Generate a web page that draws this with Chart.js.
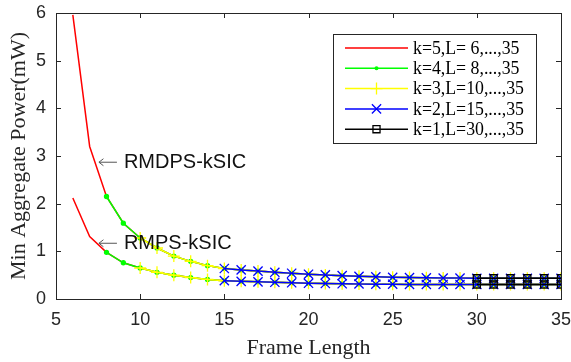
<!DOCTYPE html>
<html>
<head>
<meta charset="utf-8">
<script src="https://cdn.jsdelivr.net/npm/chart.js@4/dist/chart.umd.min.js"></script>
<style>
  html, body { margin: 0; padding: 0; background: #ffffff; }
  #wrap { width: 571px; height: 362px; }
</style>
</head>
<body>
<div id="wrap"><canvas id="c" width="571" height="362"></canvas></div>
<script>
// ---- data ----
const frameLengths = [6,7,8,9,10,11,12,13,14,15,16,17,18,19,20,21,22,23,24,25,26,27,28,29,30,31,32,33,34,35];
const rmdpsPower = [5.96,3.20,2.15,1.59,1.28,1.07,0.90,0.79,0.70,0.64,0.61,0.585,0.56,0.54,0.52,0.505,0.49,0.475,0.465,0.455,0.45,0.445,0.44,0.44,0.435,0.435,0.435,0.435,0.435,0.435];
const rmpsPower  = [2.12,1.31,0.98,0.76,0.65,0.56,0.50,0.45,0.41,0.385,0.37,0.36,0.35,0.34,0.33,0.325,0.32,0.315,0.31,0.31,0.305,0.305,0.305,0.305,0.305,0.305,0.305,0.305,0.305,0.305];
const seriesK      = [5, 4, 3, 2, 1];
const seriesStartL = [6, 8, 10, 15, 30];
const seriesLabels = ['k=5,L= 6,...,35','k=4,L= 8,...,35','k=3,L=10,...,35','k=2,L=15,...,35','k=1,L=30,...,35'];
const xTicks = [5,10,15,20,25,30,35];
const yTicks = [0,1,2,3,4,5,6];
const annotations = [
  {text: 'RMDPS-kSIC', x: 7.55, y: 2.88},
  {text: 'RMPS-kSIC',  x: 7.55, y: 1.18}
];

// ---- styles ----
const seriesStyle = [
  {color: '#ff0000', pointStyle: 'circle',   radius: 0,   fill: false},
  {color: '#00ff00', pointStyle: 'circle',   radius: 2,   fill: true},
  {color: '#ffff00', pointStyle: 'cross',    radius: 6,   fill: false},
  {color: '#0000ff', pointStyle: 'crossRot', radius: 6.5, fill: false},
  {color: '#000000', pointStyle: 'rect',     radius: 5,   fill: false}
];
const AX = '#262626';

function buildPoints(values, startL) {
  const pts = [];
  frameLengths.forEach((L, i) => { if (L >= startL) pts.push({x: L, y: values[i]}); });
  return pts;
}

const datasets = [];
seriesK.forEach((k, si) => {
  const st = seriesStyle[si];
  [rmdpsPower, rmpsPower].forEach((vals, ci) => {
    datasets.push({
      label: seriesLabels[si] + (ci ? ' (RMPS)' : ''),
      data: buildPoints(vals, seriesStartL[si]),
      borderColor: st.color,
      backgroundColor: st.fill ? st.color : 'rgba(0,0,0,0)',
      pointBorderColor: st.color,
      pointBackgroundColor: st.fill ? st.color : 'rgba(0,0,0,0)',
      pointStyle: st.pointStyle,
      pointRadius: st.radius,
      pointBorderWidth: 1.3,
      pointHoverRadius: st.radius,
      borderWidth: 1.5,
      tension: 0,
      fill: false,
      order: k
    });
  });
});

function drawMarker(ctx, st, x, y) {
  if (!st.radius) return;
  ctx.save();
  ctx.strokeStyle = st.color;
  ctx.fillStyle = st.color;
  ctx.lineWidth = 1.3;
  const r = st.radius;
  ctx.beginPath();
  if (st.pointStyle === 'circle') {
    ctx.arc(x, y, r, 0, Math.PI * 2);
    ctx.fill();
  } else if (st.pointStyle === 'cross') {
    ctx.moveTo(x - r, y); ctx.lineTo(x + r, y);
    ctx.moveTo(x, y - r); ctx.lineTo(x, y + r);
    ctx.stroke();
  } else if (st.pointStyle === 'crossRot') {
    const d = r * Math.SQRT1_2;
    ctx.moveTo(x - d, y - d); ctx.lineTo(x + d, y + d);
    ctx.moveTo(x - d, y + d); ctx.lineTo(x + d, y - d);
    ctx.stroke();
  } else if (st.pointStyle === 'rect') {
    const s = r * Math.SQRT1_2;
    ctx.rect(x - s, y - s, 2 * s, 2 * s);
    ctx.stroke();
  }
  ctx.restore();
}

const decorPlugin = {
  id: 'decor',
  afterDraw(chart) {
    const ctx = chart.ctx;
    const xs = chart.scales.x, ys = chart.scales.y;
    const {left, right, top, bottom} = chart.chartArea;
    ctx.save();
    // box
    ctx.strokeStyle = AX;
    ctx.lineWidth = 1;
    ctx.beginPath();
    ctx.moveTo(left + 0.5, top + 0.5); ctx.lineTo(right + 0.5, top + 0.5); ctx.lineTo(right + 0.5, bottom + 0.5);
    ctx.stroke();
    // inward ticks
    const tl = 5;
    ctx.beginPath();
    xTicks.forEach(v => {
      const px = Math.round(xs.getPixelForValue(v)) + 0.5;
      ctx.moveTo(px, bottom); ctx.lineTo(px, bottom - tl);
      ctx.moveTo(px, top); ctx.lineTo(px, top + tl);
    });
    yTicks.forEach(v => {
      const py = Math.round(ys.getPixelForValue(v)) + 0.5;
      ctx.moveTo(left, py); ctx.lineTo(left + tl, py);
      ctx.moveTo(right, py); ctx.lineTo(right - tl, py);
    });
    ctx.stroke();

    // annotations
    annotations.forEach(a => {
      const px = xs.getPixelForValue(a.x), py = ys.getPixelForValue(a.y);
      ctx.strokeStyle = '#555555';
      ctx.lineWidth = 1;
      ctx.beginPath();
      ctx.moveTo(px, py + 0.5); ctx.lineTo(px + 18, py + 0.5);
      ctx.moveTo(px + 4.5, py - 3); ctx.lineTo(px, py + 0.5); ctx.lineTo(px + 4.5, py + 4);
      ctx.stroke();
      ctx.fillStyle = '#111111';
      ctx.font = '20px "Liberation Sans", Arial, sans-serif';
      ctx.textBaseline = 'middle';
      ctx.textAlign = 'left';
      ctx.fillText(a.text, px + 25, py + 1);
    });

    // legend
    const bx = 333, by = 34, bw = 203, bh = 109;
    ctx.fillStyle = '#ffffff';
    ctx.fillRect(bx, by, bw, bh);
    ctx.strokeStyle = AX;
    ctx.lineWidth = 1;
    ctx.strokeRect(bx + 0.5, by + 0.5, bw, bh);
    ctx.font = '17.8px "Liberation Serif", "Times New Roman", serif';
    ctx.textBaseline = 'middle';
    ctx.textAlign = 'left';
    seriesLabels.forEach((lab, i) => {
      const st = seriesStyle[i];
      const y = 48 + i * 20.3;
      ctx.strokeStyle = st.color;
      ctx.lineWidth = 1.5;
      ctx.beginPath();
      ctx.moveTo(345, y); ctx.lineTo(408, y);
      ctx.stroke();
      drawMarker(ctx, st, 376.5, y);
      ctx.fillStyle = '#000000';
      ctx.fillText(lab, 413, y + 1);
    });
    ctx.restore();
  }
};

new Chart(document.getElementById('c'), {
  type: 'line',
  data: { datasets },
  options: {
    responsive: false,
    animation: false,
    events: [],
    layout: { padding: { top: 13, right: 10, left: 0, bottom: 0 } },
    plugins: { legend: { display: false }, tooltip: { enabled: false } },
    scales: {
      x: {
        type: 'linear', min: 5, max: 35,
        afterBuildTicks: s => { s.ticks = xTicks.map(v => ({value: v})); },
        afterFit: s => { s.height = 63; s.paddingLeft = 0; s.paddingRight = 0; },
        grid: { drawOnChartArea: false, drawTicks: false, color: 'rgba(0,0,0,0)' },
        border: { display: true, color: AX, width: 1 },
        ticks: { color: AX, padding: 10, font: { family: '"Liberation Sans", Arial, sans-serif', size: 18 }, maxRotation: 0 },
        title: { display: true, text: 'Frame Length', color: AX, padding: { top: 0, bottom: 1 },
                 font: { family: '"Liberation Serif", "Times New Roman", serif', size: 22 } }
      },
      y: {
        type: 'linear', min: 0, max: 6,
        afterBuildTicks: s => { s.ticks = yTicks.map(v => ({value: v})); },
        afterFit: s => { s.width = 56; s.paddingTop = 0; s.paddingBottom = 0; },
        grid: { drawOnChartArea: false, drawTicks: false, color: 'rgba(0,0,0,0)' },
        border: { display: true, color: AX, width: 1 },
        ticks: { color: AX, padding: 10, font: { family: '"Liberation Sans", Arial, sans-serif', size: 18 } },
        title: { display: true, text: 'Min Aggregate Power(mW)', color: AX, padding: { top: 6, bottom: 0 },
                 font: { family: '"Liberation Serif", "Times New Roman", serif', size: 22 } }
      }
    }
  },
  plugins: [decorPlugin]
});
</script>
</body>
</html>
